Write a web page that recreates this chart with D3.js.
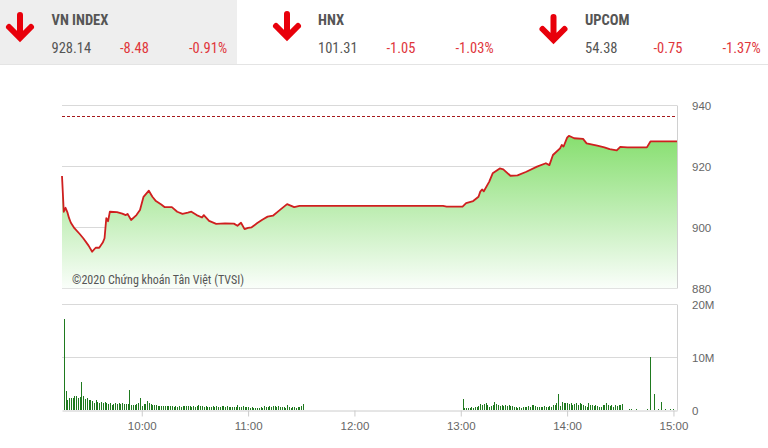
<!DOCTYPE html>
<html><head><meta charset="utf-8">
<script src="https://cdn.jsdelivr.net/npm/d3@7"></script>
<style>
body{margin:0;background:#fff;}
svg{display:block;font-family:'Roboto Condensed','Liberation Sans Narrow','Roboto',sans-serif;}
</style></head>
<body><svg id="c" width="768" height="448"></svg>
<script>
// ---- header data ----
const indexNames = ["VN INDEX", "HNX", "UPCOM"];
const indexValues = ["928.14", "101.31", "54.38"];
const indexChanges = ["-8.48", "-1.05", "-0.75"];
const indexPercents = ["-0.91%", "-1.03%", "-1.37%"];

// ---- price line ----
const lineTimes = ["09:15","09:16","09:17","09:18","09:19","09:20","09:22","09:25","09:27","09:30","09:32","09:34","09:36","09:38","09:39","09:40","09:41","09:42","09:46","09:49","09:51","09:52","09:54","09:57","09:59","10:01","10:04","10:06","10:08","10:11","10:13","10:17","10:20","10:23","10:26","10:28","10:31","10:34","10:35","10:38","10:42","10:47","10:52","10:54","10:56","10:58","11:00","11:02","11:05","11:08","11:11","11:14","11:18","11:22","11:26","11:29","11:30","12:50","12:52","13:01","13:03","13:07","13:10","13:11","13:12","13:13","13:16","13:18","13:22","13:24","13:28","13:32","13:37","13:43","13:48","13:50","13:52","13:56","13:57","13:58","14:00","14:01","14:04","14:09","14:11","14:17","14:21","14:24","14:28","14:30","14:34","14:45","14:47","15:02"];
const lineValues = [916.8,905.1,906.4,905.0,903.0,901.5,899.7,897.8,896.4,894.0,892.0,893.3,893.3,895.0,896.4,903.0,902.0,905.1,905.0,904.5,904.0,904.4,902.4,904.0,905.7,910.0,912.0,910.0,908.6,907.5,906.6,906.6,905.1,904.4,904.8,905.1,904.0,903.2,904.0,902.1,901.1,901.3,901.2,900.5,901.5,899.4,899.8,900.0,901.3,902.5,903.5,903.8,905.7,907.6,906.6,907.0,907.0,907.0,906.8,906.8,907.9,908.6,910.0,911.7,912.4,911.8,914.9,917.7,919.3,919.0,916.9,917.0,918.2,919.9,921.0,920.4,923.7,925.9,927.0,926.5,929.4,930.0,929.2,929.0,927.5,926.8,926.2,925.6,925.2,926.4,926.2,926.2,928.14,928.14];
const referenceValue = 936.62;

// ---- volume (millions), one bar per minute ----
const morningStart = "09:16";
const morningVolume = [17.2,3.5,1.8,2.3,2.3,2.2,2.6,2.6,2.3,2.5,5.2,2.7,2.0,2.2,1.9,1.8,1.7,1.4,1.8,1.6,1.4,1.6,1.4,1.6,1.4,1.1,1.3,0.9,1.1,1.3,1.1,1.4,1.1,1.3,1.1,1.1,1.1,3.8,0.9,0.9,0.9,1.1,1.4,2.2,0.8,1.1,1.1,1.7,1.4,1.1,0.9,0.9,0.9,0.8,0.7,0.8,0.7,0.8,0.7,0.8,0.7,0.8,0.6,0.8,0.6,0.7,0.6,0.7,0.8,0.7,0.8,0.7,
0.6,0.8,0.5,0.8,0.9,0.8,0.8,0.6,0.7,0.5,0.6,0.5,0.7,0.5,0.7,0.5,0.6,0.7,0.8,0.6,0.7,0.5,0.6,0.5,0.6,0.5,1.0,0.5,0.6,0.7,0.5,0.6,0.5,0.4,0.5,0.4,0.3,0.4,0.4,0.5,0.3,0.7,0.6,0.6,0.7,0.6,0.7,0.8,0.6,0.7,0.5,0.5,0.6,0.4,0.9,0.6,0.4,0.5,0.5,0.4,0.6,0.6,0.8,1.1];
const afternoonStart = "13:01";
const afternoonVolume = [2.1,0.3,0.4,0.4,0.4,0.5,0.4,0.6,0.5,0.8,1.1,0.9,1.1,1.3,1.0,0.6,0.8,1.0,1.5,1.1,1.0,0.8,0.9,0.8,0.9,0.8,0.9,0.8,0.8,0.5,0.5,0.3,0.6,0.4,0.6,0.6,0.6,0.8,0.6,1.0,0.9,0.8,0.6,0.6,0.5,0.6,0.8,0.6,0.6,0.8,0.6,0.9,1.0,1.3,3.0,0.8,1.6,1.4,1.4,1.3,1.1,1.3,1.0,1.1,1.3,1.0,1.3,1.1,0.9,0.8,0.6,1.3,1.0,1.0,0.8,1.0,0.8,0.5,0.6,0.9,1.0,1.3,1.0,0.8,0.9,0.6,0.9,0.8,0.9,1.0,1.1];
const lateTimes = ["14:35","14:36","14:39","14:45","14:47","14:49","14:51","14:53","14:55","14:58","15:00"];
const lateVolume = [0.15,0.15,0.15,0.15,10.0,3.0,0.15,1.5,0.15,0.15,0.15];

const priceTicks = [880, 900, 920, 940];
const volumeTicks = [0, 10, 20];
const volumeTickLabels = ["0", "10M", "20M"];
const timeTicks = ["10:00","11:00","12:00","13:00","14:00","15:00"];
const watermark = "©2020 Chứng khoán Tân Việt (TVSI)";

// ---- drawing ----
const parse = s => { const [h,m] = s.split(":").map(Number); return new Date(2020,0,1,h,m); };
const addMin = (s, k) => new Date(parse(s).getTime() + k*60000);
const svg = d3.select("#c");

// header
svg.append("rect").attr("x",0).attr("y",0).attr("width",237).attr("height",64).attr("fill","#eeeeee");
svg.append("line").attr("x1",0).attr("x2",768).attr("y1",64.5).attr("y2",64.5).attr("stroke","#e4e4e4");
const colX = [51.5, 318, 585];
const arrowX = [20, 287, 553.5];
const arrowY = [15, 14, 17];
indexNames.forEach((n,i)=>{
  const g = svg.append("g");
  const ax = arrowX[i], ay = arrowY[i];
  g.append("path").attr("d",`M${ax},${ay} L${ax},${ay+21} M${ax-11},${ay+12} L${ax},${ay+23} L${ax+11},${ay+12}`)
    .attr("fill","none").attr("stroke","#e8000b").attr("stroke-width",6).attr("stroke-linejoin","miter").attr("stroke-linecap","round");
  g.append("text").attr("x",colX[i]).attr("y",25).text(n).attr("font-weight","bold").attr("font-size",14.5).attr("fill","#555");
  g.append("text").attr("x",colX[i]).attr("y",53).text(indexValues[i]).attr("font-size",14.5).attr("fill","#555");
  g.append("text").attr("x",colX[i]+68.5).attr("y",53).text(indexChanges[i]).attr("font-size",14.5).attr("fill","#e0363b");
  g.append("text").attr("x",colX[i]+137.5).attr("y",53).text(indexPercents[i]).attr("font-size",14.5).attr("fill","#e0363b");
});

const L = 62, R = 677;
const x = d3.scaleTime().domain([parse("09:15"), parse("15:02")]).range([L, R]);
const yP = d3.scaleLinear().domain([880, 940]).range([288.3, 105.3]);
const yV = d3.scaleLinear().domain([0, 20]).range([410, 304]);

// price pane grid
svg.append("g").selectAll("line").data(priceTicks).join("line")
  .attr("x1",L).attr("x2",R).attr("y1",d=>Math.round(yP(d))+0.5).attr("y2",d=>Math.round(yP(d))+0.5)
  .attr("stroke","#d9d9d9");
svg.append("line").attr("x1",R+0.5).attr("x2",R+0.5).attr("y1",Math.round(yP(940))+0.5).attr("y2",Math.round(yP(880))+0.5).attr("stroke","#d0d0d0");

// gradient
const defs = svg.append("defs");
const gr = defs.append("linearGradient").attr("id","ga").attr("gradientUnits","userSpaceOnUse")
  .attr("x1",0).attr("x2",0).attr("y1",yP(931)).attr("y2",yP(880));
gr.append("stop").attr("offset",0).attr("stop-color","#84de6c");
gr.append("stop").attr("offset",0.55).attr("stop-color","#c4efba");
gr.append("stop").attr("offset",1).attr("stop-color","#fafefa");

const pts = lineTimes.map((t,i)=>({t:parse(t), v:lineValues[i]}));
svg.append("path").datum(pts)
  .attr("d", d3.area().x(d=>x(d.t)).y0(yP(880)).y1(d=>yP(d.v)))
  .attr("fill","url(#ga)");
svg.append("path").datum(pts)
  .attr("d", d3.line().x(d=>x(d.t)).y(d=>yP(d.v)))
  .attr("fill","none").attr("stroke","#cf1f1f").attr("stroke-width",1.8).attr("stroke-linejoin","round");

// reference dashed line
svg.append("line").attr("x1",L).attr("x2",R).attr("y1",Math.round(yP(referenceValue))+0.5).attr("y2",Math.round(yP(referenceValue))+0.5)
  .attr("stroke","#a5191c").attr("stroke-dasharray","3,2").attr("stroke-width",1);

// watermark
svg.append("text").attr("x",72).attr("y",284).text(watermark).attr("font-size",12).attr("fill","#555");

// price axis labels
svg.append("g").attr("transform",`translate(${R},0)`)
  .call(d3.axisRight(yP).tickValues(priceTicks).tickSize(0).tickPadding(15))
  .call(g=>g.select(".domain").remove())
  .call(g=>g.selectAll("text").attr("font-size",11.5).attr("fill","#666").attr("font-family",null).attr("dy","0.4em"));

// volume pane grid
svg.append("g").selectAll("line").data(volumeTicks.filter(d=>d>0)).join("line")
  .attr("x1",L).attr("x2",R).attr("y1",d=>Math.round(yV(d))+0.5).attr("y2",d=>Math.round(yV(d))+0.5)
  .attr("stroke","#d9d9d9");
svg.append("line").attr("x1",R+0.5).attr("x2",R+0.5).attr("y1",Math.round(yV(20))+0.5).attr("y2",Math.round(yV(0))+0.5).attr("stroke","#d0d0d0");

// volume bars
const vols = [];
morningVolume.forEach((v,i)=>vols.push({t:addMin(morningStart,i), v}));
afternoonVolume.forEach((v,i)=>vols.push({t:addMin(afternoonStart,i), v}));
lateTimes.forEach((t,i)=>vols.push({t:parse(t), v:lateVolume[i]}));
svg.append("g").selectAll("rect").data(vols).join("rect")
  .attr("x",d=>Math.round(x(d.t)))
  .attr("width",1)
  .attr("y",d=>yV(d.v)).attr("height",d=>yV(0)-yV(d.v))
  .attr("fill","#1f7a1f").attr("shape-rendering","crispEdges");

// time axis
svg.append("g").attr("transform",`translate(0,${Math.round(yV(0))+0.5})`)
  .call(d3.axisBottom(x).tickValues(timeTicks.map(parse)).tickFormat(d3.timeFormat("%H:%M")).tickSize(6).tickSizeOuter(0).tickPadding(5))
  .call(g=>g.select(".domain").attr("stroke","#cccccc"))
  .call(g=>g.selectAll(".tick line").attr("stroke","#cccccc"))
  .call(g=>g.selectAll("text").attr("font-size",11.5).attr("fill","#666").attr("font-family",null));

// volume axis labels
svg.append("g").attr("transform",`translate(${R},0)`)
  .call(d3.axisRight(yV).tickValues(volumeTicks).tickFormat((d,i)=>volumeTickLabels[i]).tickSize(0).tickPadding(15))
  .call(g=>g.select(".domain").remove())
  .call(g=>g.selectAll("text").attr("font-size",11.5).attr("fill","#666").attr("font-family",null).attr("dy","0.4em"));
</script></body></html>
